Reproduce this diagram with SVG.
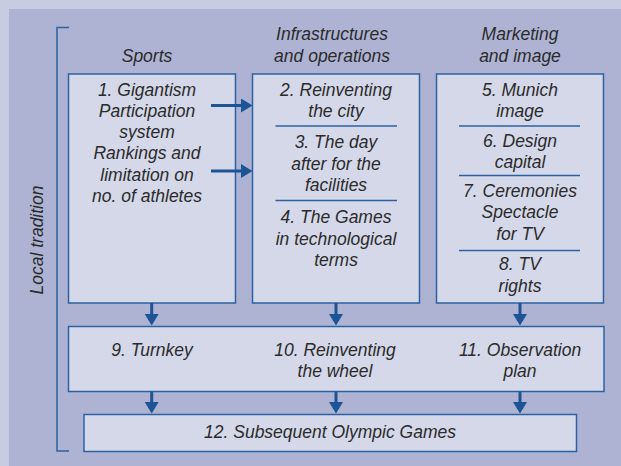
<svg xmlns="http://www.w3.org/2000/svg" width="621" height="466" viewBox="0 0 621 466">
<defs>
<style>
.t{font-family:"Liberation Sans",Arial,sans-serif;font-style:italic;font-size:17.5px;fill:#2b2b2b;text-anchor:middle}
.box{fill:#d4d8e9;stroke:#2d62a2;stroke-width:1.5}
.sep{stroke:#2d62a2;stroke-width:1.5;fill:none}
.arr{stroke:#1c5495;stroke-width:3;fill:none;marker-end:url(#ah)}
.br{stroke:#2d62a2;stroke-width:1.5;fill:none}
</style>
<marker id="ah" markerUnits="userSpaceOnUse" markerWidth="12" markerHeight="14" refX="1" refY="7" orient="auto">
<path d="M0,0 L11.5,7 L0,14 z" fill="#1c5495"/>
</marker>
</defs>
<rect x="0" y="0" width="621" height="466" fill="#c8cce0"/>
<rect x="9" y="9" width="612" height="457" fill="#aeb3d4"/>
<g id="bracket">
<path class="br" d="M69,27.5 H57 V451 H69"/>
<text class="t" transform="translate(43,240) rotate(-90)">Local tradition</text>
</g>
<g id="headers">
<text class="t" x="147" y="62">Sports</text>
<text class="t" x="332" y="40">Infrastructures</text>
<text class="t" x="332" y="61.5">and operations</text>
<text class="t" x="520" y="40">Marketing</text>
<text class="t" x="520" y="61.5">and image</text>
</g>
<g id="sports">
<rect class="box" x="68.5" y="74" width="167" height="229"/>
<text class="t" x="147" y="95.5">1. Gigantism</text>
<text class="t" x="147" y="116.8">Participation</text>
<text class="t" x="147" y="138.1">system</text>
<text class="t" x="147" y="159.4">Rankings and</text>
<text class="t" x="147" y="180.7">limitation on</text>
<text class="t" x="147" y="202">no. of athletes</text>
</g>
<g id="infrastructures">
<rect class="box" x="252.5" y="74" width="167" height="229"/>
<text class="t" x="336" y="95.5">2. Reinventing</text>
<text class="t" x="336" y="117">the city</text>
<line class="sep" x1="275.5" y1="126" x2="397" y2="126"/>
<text class="t" x="336" y="148">3. The day</text>
<text class="t" x="336" y="169.5">after for the</text>
<text class="t" x="336" y="190.5">facilities</text>
<line class="sep" x1="275.5" y1="200.5" x2="397" y2="200.5"/>
<text class="t" x="336" y="223">4. The Games</text>
<text class="t" x="336" y="244.5">in technological</text>
<text class="t" x="336" y="265.5">terms</text>
</g>
<g id="marketing">
<rect class="box" x="436.5" y="74" width="167" height="229"/>
<text class="t" x="520" y="95.5">5. Munich</text>
<text class="t" x="520" y="117">image</text>
<line class="sep" x1="459" y1="126" x2="580" y2="126"/>
<text class="t" x="520" y="147">6. Design</text>
<text class="t" x="520" y="168">capital</text>
<line class="sep" x1="459" y1="175.5" x2="580" y2="175.5"/>
<text class="t" x="520" y="197">7. Ceremonies</text>
<text class="t" x="520" y="218">Spectacle</text>
<text class="t" x="520" y="239.5">for TV</text>
<line class="sep" x1="459" y1="250.5" x2="580" y2="250.5"/>
<text class="t" x="520" y="270">8. TV</text>
<text class="t" x="520" y="291.5">rights</text>
</g>
<g id="middle">
<rect class="box" x="68.5" y="326.5" width="535.5" height="65"/>
<text class="t" x="152" y="356">9. Turnkey</text>
<text class="t" x="335" y="356">10. Reinventing</text>
<text class="t" x="335" y="377">the wheel</text>
<text class="t" x="520" y="356">11. Observation</text>
<text class="t" x="520" y="377">plan</text>
</g>
<g id="subsequent">
<rect class="box" x="84" y="414.5" width="492.5" height="37"/>
<text class="t" x="330" y="437.5">12. Subsequent Olympic Games</text>
</g>
<g id="connectors">
<path class="arr" d="M211,105.5 H242"/>
<path class="arr" d="M211,171 H242"/>
<path class="arr" d="M151.7,303 V315"/>
<path class="arr" d="M336,303 V315"/>
<path class="arr" d="M520,303 V315"/>
<path class="arr" d="M151.7,391.5 V403"/>
<path class="arr" d="M336,391.5 V403"/>
<path class="arr" d="M520,391.5 V403"/>
</g>
</svg>
